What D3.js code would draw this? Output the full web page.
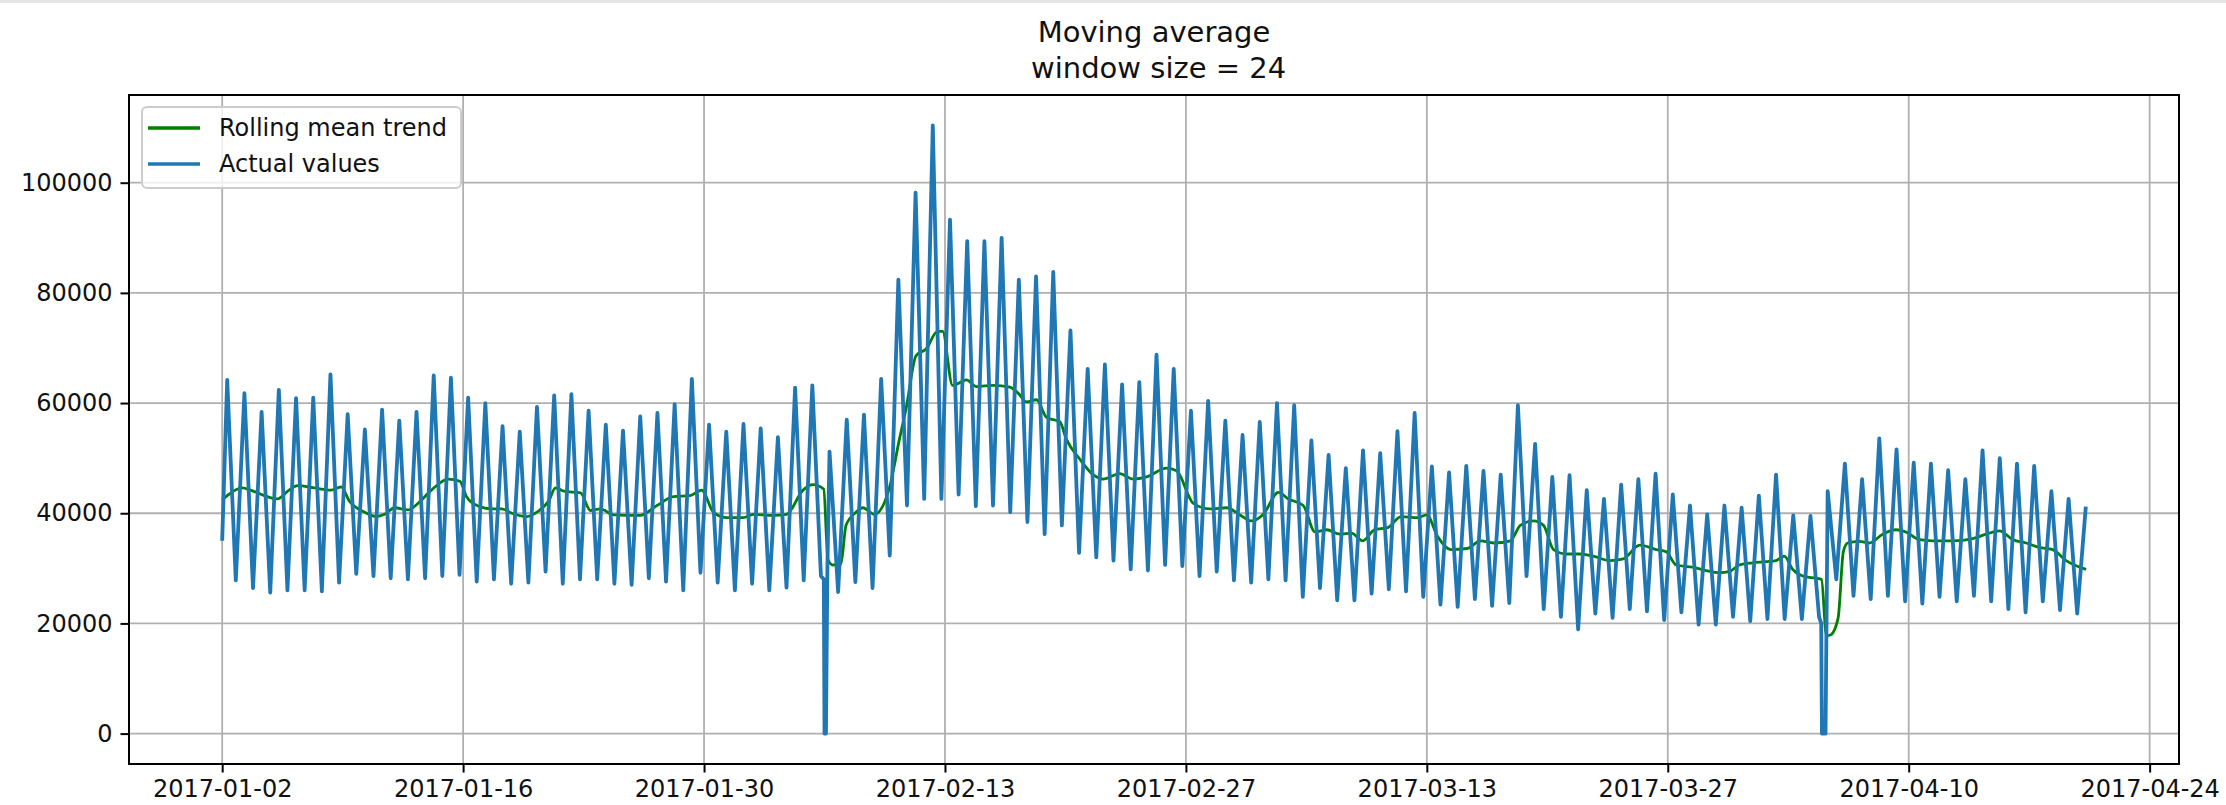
<!DOCTYPE html>
<html>
<head>
<meta charset="utf-8">
<title>Moving average</title>
<script src="https://cdnjs.cloudflare.com/ajax/libs/d3/7.8.5/d3.min.js"></script>
<style>
    body {
        margin: 0;
        background-color: #ffffff;
    }
    svg {
        display: block;
        font-family: "DejaVu Sans", sans-serif;
    }
</style>
</head>
<body>
<script>
const startDate = new Date(2017, 0, 2);
const peakHour = 7;
const troughHour = 19;
const firstValue = 35000;
const lastPoint = ["2017-04-20 07:00", 41200];

const dailyPeaks = [
    64200, 61800, 58400, 62400, 60900, 61000, 65200, 58000, 55200, 58800,
    56800, 58400, 65000, 64600, 61000, 60000, 55800, 54800, 59300, 61400,
    61600, 58600, 56100, 55000, 57600, 58200, 59800, 64400, 56100, 54800,
    56200, 55400, 53800, 62800, 63200, 51200, 57000, 57900, 64400, 82400,
    98200, 110400, 93300, 89400, 89400, 90000, 82400, 83000, 83800, 73200,
    66200, 67000, 63400, 63800, 68800, 66200, 58600, 60400, 56800, 54200,
    56600, 60000, 59600, 53200, 50600, 48200, 51400, 50900, 54900, 58200,
    48500, 47400, 48600, 47700, 47000, 59600, 52600, 46600, 46900, 44200,
    42600, 45200, 46200, 47200, 43400, 41400, 39800, 41400, 41000, 43200,
    47000, 39600, 39500, 44000, 49000, 46200, 53600, 51600, 49200, 49000,
    47800, 46200, 51400, 50000, 49000, 48600, 44000, 42600
];

const dailyTroughs = [
    27800, 26400, 25600, 26000, 26000, 25800, 27400, 29000, 28600, 28200,
    28000, 28200, 28600, 28800, 27600, 28000, 27200, 27400, 29400, 27200,
    28000, 28000, 27200, 27000, 28200, 27600, 26000, 29200, 27400, 26000,
    27200, 26000, 26500, 27800, 28600, 25700, 27500, 26400, 32300, 41400,
    42600, 42600, 43400, 41300, 41400, 40200, 38400, 36200, 37800, 32800,
    32000, 31400, 29800, 29600, 30600, 30400, 28600, 29400, 27800, 27400,
    28000, 27800, 24800, 26400, 24200, 24200, 25400, 26200, 25800, 24800,
    23400, 23000, 24400, 23200, 23700, 28600, 22600, 21200, 18900, 21800,
    21000, 22600, 22200, 20600, 22000, 19800, 19800, 21200, 20400, 20800,
    20800, 20800, 21200, 28000, 25000, 24400, 25000, 24000, 23600, 24800,
    24000, 25000, 24000, 22600, 22000, 24000, 22400, 21800
];

// the two drops to zero
const outagePoints = [
    ["2017-02-05 23:00", 28000], ["2017-02-06 00:00", 0], ["2017-02-06 02:00", 0],
    ["2017-02-06 04:00", 30000],
    ["2017-04-04 22:00", 20000], ["2017-04-04 23:00", 0], ["2017-04-05 04:00", 0]
];

// rolling mean: [days after 2017-01-02 00:00, value]
const trend = [
    [0, 42400], [0.29, 43200], [1.17, 44600], [1.65, 44200], [2.63, 43000], [3.21, 42600],
    [3.89, 44200], [4.38, 45000], [5.35, 44600], [6.32, 44200], [6.91, 44800], [7.39, 42200],
    [8.27, 40200], [8.95, 39400], [9.44, 39800], [10.02, 41000], [10.8, 40600], [11.38, 41800],
    [12.16, 44200], [13.13, 46200], [13.81, 45800], [14.2, 43000], [14.88, 41300], [15.66, 40800],
    [16.25, 40800], [16.83, 40000], [17.7, 39400], [18.29, 40200], [18.97, 42200], [19.37, 44600],
    [19.85, 44000], [20.82, 43700], [21.4, 40500], [21.98, 40800], [22.75, 39700], [24.29, 39600],
    [25.26, 41400], [26.22, 43000], [27.19, 43200], [27.86, 44200], [28.54, 40200], [29.31, 39200],
    [30.28, 39200], [30.86, 39800], [32.02, 39600], [32.79, 39800], [33.75, 44200], [34.33, 45200],
    [34.95, 44400], [35.2, 31600], [35.49, 30600], [35.95, 30800], [36.25, 37800], [36.84, 40200],
    [37.23, 41000], [37.9, 39800], [38.77, 44600], [39.35, 53400], [39.74, 59000], [40.32, 68600],
    [40.9, 69800], [41.57, 73000], [41.86, 73000], [42.44, 63200], [43.25, 64200], [43.83, 63000],
    [44.8, 63200], [45.77, 62900], [46.25, 61800], [46.74, 60200], [47.32, 60600], [47.9, 57400],
    [48.67, 56600], [49.06, 53400], [49.84, 49800], [50.61, 47000], [51.19, 46200], [52.16, 47200],
    [52.94, 46200], [53.71, 46600], [54.88, 48200], [55.46, 47700], [56.43, 41800], [57.4, 40800],
    [58.36, 41000], [59.14, 39700], [59.82, 38600], [60.5, 39800], [61.37, 43800], [61.95, 42600],
    [62.82, 41400], [63.5, 36600], [64.18, 37000], [64.95, 36200], [65.61, 36400], [66.28, 35000],
    [66.96, 37000], [67.73, 37400], [68.5, 39400], [69.46, 39200], [70, 39700], [70.62, 35800],
    [71.39, 33400], [72.35, 33600], [73.12, 35000], [73.89, 34600], [74.86, 35000], [75.43, 37800],
    [76.2, 38600], [76.78, 37800], [77.36, 33400], [78.13, 32600], [78.9, 32600], [79.67, 32200],
    [80.64, 31400], [81.41, 31700], [82.37, 34200], [83.33, 33400], [83.91, 33000], [84.49, 30600],
    [85.45, 30200], [86.22, 29600], [86.99, 29200], [87.57, 29400], [88.16, 30600], [88.93, 31000],
    [89.71, 31200], [90.29, 31400], [90.77, 32200], [91.26, 29800], [91.84, 28600], [92.61, 28200],
    [92.93, 28000], [93.22, 17800], [93.45, 17900], [93.9, 21000], [94.2, 33000], [94.45, 34600],
    [95.13, 34900], [95.71, 34600], [96.49, 36200], [97.26, 37000], [97.84, 36600], [98.62, 35200],
    [99.4, 35000], [100.56, 35000], [101.72, 35400], [102.5, 36200], [103.27, 36800], [104.05, 35200],
    [104.82, 34600], [105.6, 33800], [106.37, 33400], [107.15, 31400], [108.31, 29800]
];

const xTickDates = ["2017-01-02", "2017-01-16", "2017-01-30", "2017-02-13", "2017-02-27",
    "2017-03-13", "2017-03-27", "2017-04-10", "2017-04-24"];
const yTickValues = [0, 20000, 40000, 60000, 80000, 100000];
const titleLines = ["Moving average", " window size = 24"];
const legendLabels = ["Rolling mean trend", "Actual values"];
const legendColors = ["#008000", "#1f77b4"];

const width = 2226;
const height = 805;
const margin = {top: 95, right: 47, bottom: 41, left: 129};
const parseTime = d3.timeParse("%Y-%m-%d %H:%M");
const parseDay = d3.timeParse("%Y-%m-%d");

// assemble the actual series
const actual = [[startDate, firstValue]];
dailyPeaks.forEach((v, i) => {
    actual.push([d3.timeHour.offset(d3.timeDay.offset(startDate, i), peakHour), v]);
});
dailyTroughs.forEach((v, i) => {
    actual.push([d3.timeHour.offset(d3.timeDay.offset(startDate, i), troughHour), v]);
});
outagePoints.forEach(([t, v]) => actual.push([parseTime(t), v]));
actual.push([parseTime(lastPoint[0]), lastPoint[1]]);
actual.sort((a, b) => a[0] - b[0]);

const trendData = trend.map(([d, v]) => [new Date(+startDate + d * 864e5), v]);

// matplotlib style 5% margins
const [t0, t1] = d3.extent(actual, d => d[0]);
const tPad = (t1 - t0) * 0.05;
const vMax = d3.max(actual, d => d[1]);
const vMin = d3.min(actual, d => d[1]);
const vPad = (vMax - vMin) * 0.05;

const x = d3.scaleTime()
    .domain([new Date(+t0 - tPad), new Date(+t1 + tPad)])
    .range([margin.left, width - margin.right]);
const y = d3.scaleLinear()
    .domain([vMin - vPad, vMax + vPad])
    .range([height - margin.bottom, margin.top]);

const svg = d3.select("body")
    .append("svg")
    .attr("width", width)
    .attr("height", height);

svg.append("rect")
    .attr("width", width)
    .attr("height", height)
    .attr("fill", "#ffffff");
svg.append("rect")
    .attr("width", width)
    .attr("height", 3)
    .attr("fill", "#e4e4e4");

const xTicks = xTickDates.map(parseDay);

// grid
const grid = svg.append("g");
grid.selectAll(".vgrid")
    .data(xTicks)
    .join("line")
    .attr("x1", d => x(d)).attr("x2", d => x(d))
    .attr("y1", margin.top).attr("y2", height - margin.bottom)
    .attr("stroke", "#b0b0b0")
    .attr("stroke-width", 1.8);
grid.selectAll(".hgrid")
    .data(yTickValues)
    .join("line")
    .attr("x1", margin.left).attr("x2", width - margin.right)
    .attr("y1", d => y(d)).attr("y2", d => y(d))
    .attr("stroke", "#b0b0b0")
    .attr("stroke-width", 1.8);

// lines
svg.append("path")
    .datum(trendData)
    .attr("fill", "none")
    .attr("stroke", legendColors[0])
    .attr("stroke-width", 2.8)
    .attr("stroke-linejoin", "round")
    .attr("d", d3.line().x(d => x(d[0])).y(d => y(d[1])).curve(d3.curveMonotoneX));

svg.append("path")
    .datum(actual)
    .attr("fill", "none")
    .attr("stroke", legendColors[1])
    .attr("stroke-width", 3.8)
    .attr("stroke-linejoin", "round")
    .attr("d", d3.line().x(d => x(d[0])).y(d => y(d[1])));

// axes
const xAxis = svg.append("g")
    .attr("transform", `translate(0,${height - margin.bottom})`)
    .call(d3.axisBottom(x)
        .tickValues(xTicks)
        .tickFormat(d3.timeFormat("%Y-%m-%d"))
        .tickSize(8.5)
        .tickPadding(7));
const yAxis = svg.append("g")
    .attr("transform", `translate(${margin.left},0)`)
    .call(d3.axisLeft(y)
        .tickValues(yTickValues)
        .tickFormat(d3.format("d"))
        .tickSize(8.5)
        .tickPadding(8));

[xAxis, yAxis].forEach(g => {
    g.select(".domain").remove();
    g.selectAll(".tick line").attr("stroke", "#000").attr("stroke-width", 2);
    g.selectAll(".tick text")
        .attr("fill", "#111")
        .style("font-size", "24px")
        .style("font-family", "'DejaVu Sans', sans-serif");
});

svg.append("rect")
    .attr("x", margin.left)
    .attr("y", margin.top)
    .attr("width", width - margin.left - margin.right)
    .attr("height", height - margin.top - margin.bottom)
    .attr("fill", "none")
    .attr("stroke", "#000")
    .attr("stroke-width", 2);

// title
svg.append("g")
    .selectAll("text")
    .data(titleLines)
    .join("text")
    .attr("x", (margin.left + width - margin.right) / 2)
    .attr("y", (d, i) => 42 + i * 36)
    .attr("text-anchor", "middle")
    .attr("fill", "#111")
    .style("font-size", "29px")
    .style("white-space", "pre")
    .text(d => d);

// legend
const legend = svg.append("g");
legend.append("rect")
    .attr("x", 142)
    .attr("y", 107)
    .attr("width", 319)
    .attr("height", 81)
    .attr("rx", 5)
    .attr("fill", "#ffffff")
    .attr("fill-opacity", 0.8)
    .attr("stroke", "#cccccc")
    .attr("stroke-width", 2);

const items = legend.selectAll(".item")
    .data(legendLabels)
    .join("g")
    .attr("transform", (d, i) => `translate(0,${128 + i * 36})`);
items.append("line")
    .attr("x1", 148).attr("x2", 200)
    .attr("stroke", (d, i) => legendColors[i])
    .attr("stroke-width", 3.5);
items.append("text")
    .attr("x", 219)
    .attr("y", 8)
    .attr("fill", "#111")
    .style("font-size", "24px")
    .text(d => d);
</script>
</body>
</html>
